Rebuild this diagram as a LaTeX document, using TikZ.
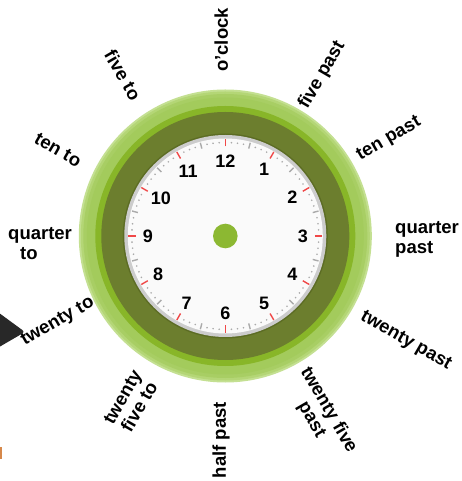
\documentclass[tikz,border=0pt]{standalone}
\usepackage{fontspec}
\setmainfont{Liberation Sans}
\definecolor{olivering}{RGB}{108,126,46}
\definecolor{oliveedge}{RGB}{92,108,36}
\definecolor{brightband}{RGB}{136,182,40}
\definecolor{lightA}{RGB}{196,224,146}
\definecolor{lightB}{RGB}{180,214,118}
\definecolor{lightC}{RGB}{168,206,100}
\definecolor{lightD}{RGB}{163,203,92}
\definecolor{rimgray}{RGB}{204,204,204}
\definecolor{facewhite}{RGB}{250,250,250}
\definecolor{redtick}{RGB}{240,72,72}
\definecolor{graytick}{RGB}{170,170,170}
\definecolor{dotgreen}{RGB}{140,184,50}
\definecolor{darkshape}{RGB}{40,40,40}
\definecolor{orangesliver}{RGB}{214,136,74}
\begin{document}
\begin{tikzpicture}[x=1pt,y=1pt,
  lbl/.style={font=\fontsize{18.5}{19.5}\selectfont\bfseries, inner sep=0pt, align=center},
  num/.style={font=\fontsize{18}{18}\selectfont\bfseries, inner sep=0pt},
  redmark/.style={draw=redtick, line width=1.4pt},
  graymark/.style={draw=graytick, line width=1.4pt},
  dotmark/.style={fill=graytick}]
\useasboundingbox (-225.3,-245) rectangle (236.7,236);
\fill[white] (-225.3,-245) rectangle (236.7,236);
% rings
\fill[lightA] (0,0) circle (146.5);
\fill[lightB] (0,0) circle (144.5);
\fill[lightC] (0,0) circle (142);
\fill[lightD] (0,0) circle (138.5);
\fill[brightband] (0,0) circle (130);
\fill[olivering] (0,0) circle (124);
\fill[oliveedge] (0,0) circle (102.5);
% face
\fill[rimgray] (0,0) circle (101);
\fill[facewhite] (0,0) circle (97.5);
% ticks
\foreach \i in {0,...,95}{
  \pgfmathsetmacro\a{90-\i*3.75}
  \pgfmathtruncatemacro\m{mod(\i,8)}
  \pgfmathtruncatemacro\n{mod(\i,4)}
  \ifnum\m=0
    \draw[redmark] (\a:89.5) -- (\a:97);
  \else\ifnum\n=0
    \draw[graymark] (\a:90.5) -- (\a:96.5);
  \else
    \fill[dotmark] (\a:93.5) circle (0.9);
  \fi\fi
}
% numbers
\foreach \h in {1,...,12}{
  \pgfmathsetmacro\b{90-30*\h}
  \pgfmathsetmacro\r{\h>9 ? 74.5 : 77.5}
  \node[num] (n\h) at (\b:\r) {\h};
}
% centre dot
\fill[dotgreen] (0,0) circle (12.3);
% labels
\node[lbl, rotate=90] (oclock) at (-4,196) {o’clock};
\node[lbl, rotate=60] (fivepast) at (96.7,161) {five past};
\node[lbl, rotate=30] (tenpast) at (163.7,97) {ten past};
\node[lbl, anchor=west, align=left] (quarterpast) at (169.7,-3.5) {quarter\\past};
\node[lbl, rotate=-30] (twentypast) at (180.5,-105) {twenty past};
\node[lbl, rotate=-60] (twentyfivepast) at (94.7,-179) {twenty five\\past};
\node[lbl, rotate=90] (halfpast) at (-4.3,-204) {half past};
\node[lbl, rotate=60] (twentyfiveto) at (-94.3,-166) {twenty\\five to};
\node[lbl, rotate=30] (twentyto) at (-167.3,-86) {twenty to};
\node[lbl, anchor=west, align=left] (quarterto) at (-217.3,-7.5) {quarter\\\hspace*{12pt}to};
\node[lbl, rotate=-30] (tento) at (-167.3,86) {ten to};
\node[lbl, rotate=-60] (fiveto) at (-102.3,161) {five to};
% edge fragments
\begin{scope}
\clip (-225.3,-245) rectangle (236.7,236);
\fill[darkshape, rounded corners=3pt] (-233,-72) -- (-200.3,-96) -- (-233,-115) -- cycle;
\fill[orangesliver] (-226,-211) rectangle (-223.6,-223);
\end{scope}
\end{tikzpicture}
\end{document}
